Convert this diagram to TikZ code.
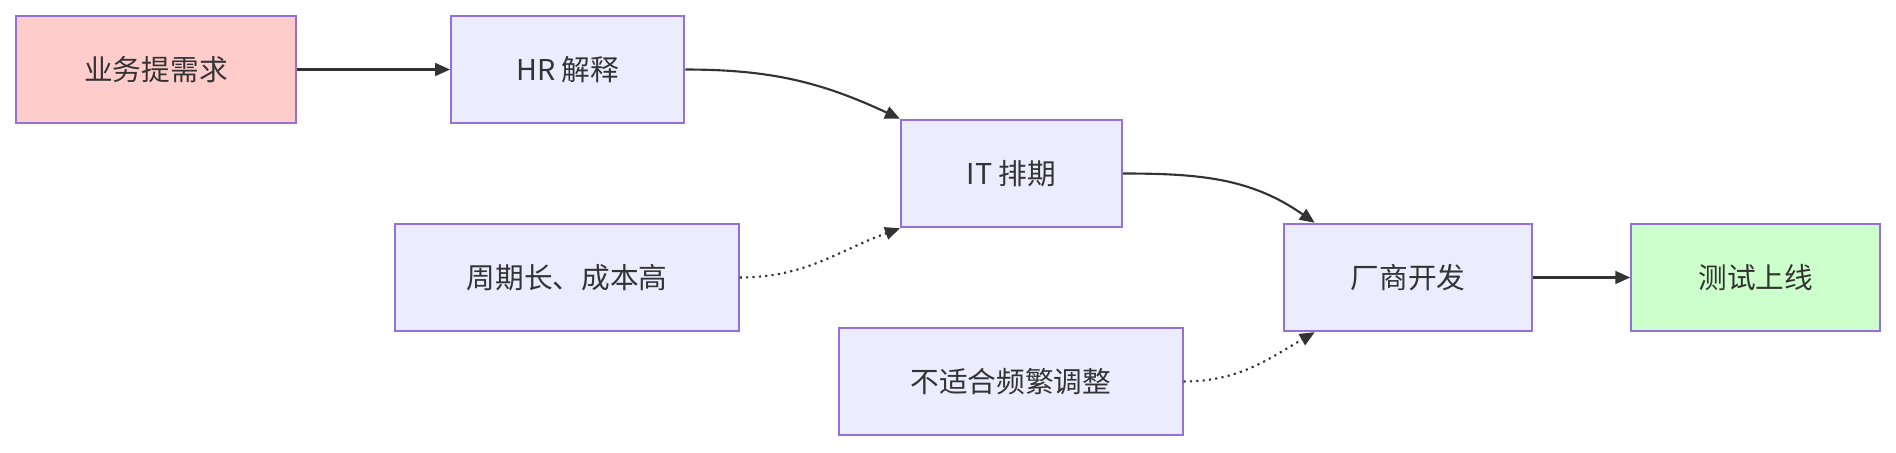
\documentclass[tikz,border=0pt]{standalone}
\usepackage{fontspec}
\setmainfont{Noto Sans CJK SC}
\usetikzlibrary{arrows.meta,calc}
\definecolor{nfill}{HTML}{ECECFF}
\definecolor{nline}{HTML}{9370DB}
\definecolor{pinkf}{HTML}{FFCCCC}
\definecolor{greenf}{HTML}{CCFFCC}
\definecolor{ink}{HTML}{333333}
\tikzset{
 box/.style={draw=nline,fill=nfill,line width=0.9pt,minimum height=1.78cm,inner sep=0pt,font=\fontsize{13.5}{16}\selectfont,text=ink},
 link/.style={draw=ink,line width=1pt,-{Triangle[length=7pt,width=6pt]}},
 dlink/.style={link,dotted},
}
\begin{document}
\begin{tikzpicture}[x=0.02cm,y=-0.02cm]
\useasboundingbox (0,0) rectangle (1568,374);
\node[box,fill=pinkf,minimum width=4.64cm] (a) at (129,57.5) {业务提需求};
\node[box,minimum width=3.86cm] (b) at (469.5,57.5) {HR 解释};
\node[box,minimum width=3.66cm] (c) at (836.5,143.5) {IT 排期};
\node[box,minimum width=5.68cm] (d) at (469,229.5) {周期长、成本高};
\node[box,minimum width=4.1cm] (e) at (1164.5,229.5) {厂商开发};
\node[box,fill=greenf,minimum width=4.12cm] (f) at (1452,229.5) {测试上线};
\node[box,minimum width=5.68cm] (g) at (836,315.5) {不适合频繁调整};
\draw[link] (a) -- (b);
\draw[link] (b.east) to[out=0,in=155] (c.north west);
\draw[dlink] (d.east) to[out=0,in=200] (c.south west);
\draw[link] (c.east) to[out=0,in=145] ($(e.north west)+(26,0)$);
\draw[dlink] (g.east) to[out=0,in=210] ($(e.south west)+(26,0)$);
\draw[link] (e) -- (f);
\end{tikzpicture}
\end{document}
